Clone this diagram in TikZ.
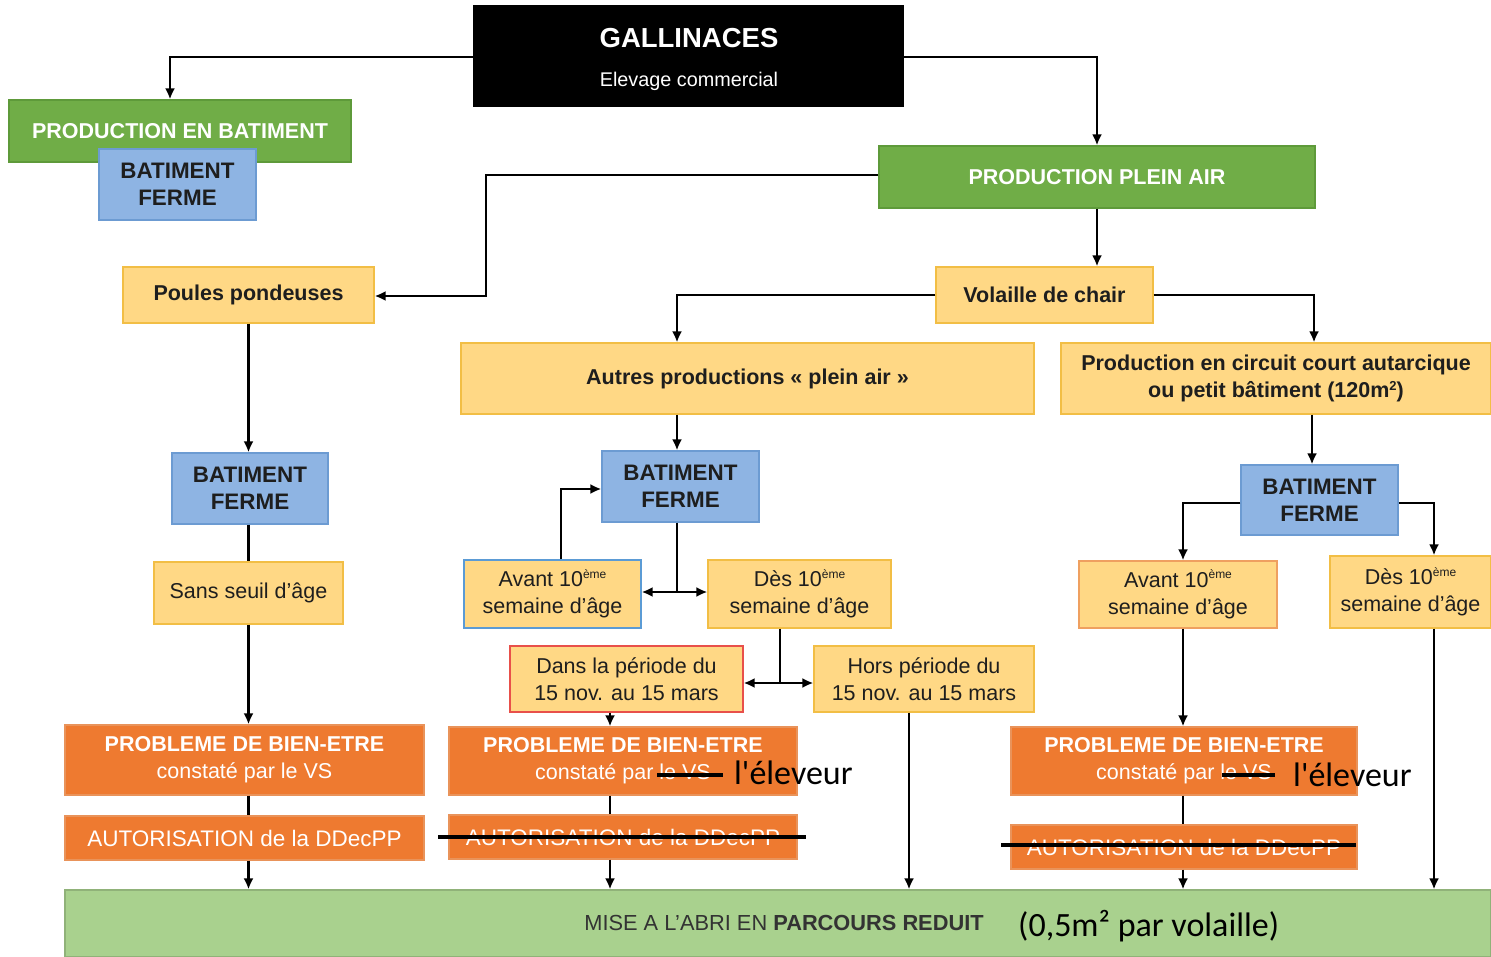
\documentclass[tikz,border=0pt]{standalone}
\usepackage{fontspec}
\setmainfont{Liberation Sans}
\newfontfamily\calib{Carlito}
\usetikzlibrary{arrows.meta}

\definecolor{grn}{HTML}{70AD47}
\definecolor{grnb}{HTML}{5E9A3A}
\definecolor{blu}{HTML}{8EB4E3}
\definecolor{blub}{HTML}{6C9BD2}
\definecolor{yel}{HTML}{FFD885}
\definecolor{yelb}{HTML}{F2BE45}
\definecolor{org}{HTML}{EE7A30}
\definecolor{orgb}{HTML}{E9935A}
\definecolor{lgrn}{HTML}{A9D18E}
\definecolor{txt}{HTML}{1E1E1E}
\definecolor{redb}{HTML}{E8504A}
\definecolor{blbd}{HTML}{5B9BD5}
\definecolor{orbd}{HTML}{EFA060}

\newcommand\rbox[6]{\node[#1,minimum width={#4-#2},minimum height={#5-#3}] (#6) at ({(#2+#4)/2},{(#3+#5)/2})}
\newcommand\myeme{\raisebox{0.4em}{\fontsize{12}{12}\selectfont ème}}
\newcommand\mysq{\raisebox{0.35em}{\fontsize{13}{13}\selectfont\bfseries 2}}

\begin{document}
\begin{tikzpicture}[x=1pt,y=-1pt,
 box/.style={rectangle, inner sep=0pt, align=center, line width=1.2pt, text=txt, font=\fontsize{21.5}{27}\selectfont},
 greenbox/.style={box, fill=grn, draw=grnb, text=white, font=\fontsize{21.5}{27}\selectfont\bfseries},
 bluebox/.style={box, fill=blu, draw=blub, font=\fontsize{22.4}{27}\selectfont\bfseries},
 yelbox/.style={box, fill=yel, draw=yelb},
 byelbox/.style={yelbox, font=\fontsize{21.5}{27}\selectfont\bfseries},
 orgbox/.style={box, fill=org, draw=orgb, text=white},
 conn/.style={line width=2.5pt, draw=black},
 arr/.style={conn, -{Latex[length=11pt,width=10pt]}},
 darr/.style={conn, {Latex[length=11pt,width=10pt]}-{Latex[length=11pt,width=10pt]}},
 strike/.style={line width=3.5pt, black},
 hand/.style={font=\calib\fontsize{34}{38}\selectfont, inner sep=0pt, anchor=base west, text=black}
]
\useasboundingbox (0,0) rectangle (1491,957);
\fill[white] (0,0) rectangle (1491,957);

% ---------- boxes ----------
\rbox{box, fill=black, draw=black}{474}{6}{903}{106}{gal} {};
\node[text=white, font=\fontsize{27.5}{30}\selectfont\bfseries] (galt) at (689,38) {GALLINACES};
\node[text=white, font=\fontsize{19.8}{24}\selectfont] (gals) at (689,81) {Elevage commercial};

\rbox{greenbox}{9}{100}{351}{162}{peb} {PRODUCTION EN BATIMENT};
\rbox{bluebox}{99}{149}{256}{220}{bf0} {BATIMENT\\FERME};
\rbox{greenbox}{879}{146}{1315}{208}{ppa} {PRODUCTION PLEIN AIR};

\rbox{byelbox}{123}{267}{374}{323}{pp} {Poules pondeuses};
\rbox{byelbox}{936}{267}{1153}{323}{vol} {Volaille de chair};
\rbox{byelbox}{461}{343}{1034}{414}{aut} {Autres productions « plein air »};
\rbox{byelbox}{1061}{343}{1491}{414}{circ} {Production en circuit court autarcique\\ou petit bâtiment (120m\mysq)};

\rbox{bluebox}{172}{453}{328}{524}{bf1} {BATIMENT\\FERME};
\rbox{bluebox}{602}{451}{759}{522}{bf2} {BATIMENT\\FERME};
\rbox{bluebox}{1241}{465}{1398}{535}{bf3} {BATIMENT\\FERME};

\rbox{yelbox}{154}{562}{343}{624}{sans} {Sans seuil d’âge};
\rbox{yelbox, draw=blbd}{464}{560}{641}{628}{avm} {Avant 10\myeme\\semaine d’âge};
\rbox{yelbox}{708}{560}{891}{628}{desm} {Dès 10\myeme\\semaine d’âge};
\rbox{yelbox, draw=redb}{510}{646}{743}{712}{dans} {Dans la période du\\15 nov. au 15 mars};
\rbox{yelbox}{814}{646}{1034}{712}{hors} {Hors période du\\15 nov. au 15 mars};
\rbox{yelbox, draw=orbd}{1079}{561}{1277}{628}{avr} {Avant 10\myeme\\semaine d’âge};
\rbox{yelbox}{1330}{556}{1491}{628}{desr} {Dès 10\myeme\\semaine d’âge};

\rbox{orgbox}{65}{725}{424}{795}{prob1} {\textbf{PROBLEME DE BIEN-ETRE}\\constaté par le VS};
\rbox{orgbox}{449}{727}{797}{795}{prob2} {\textbf{PROBLEME DE BIEN-ETRE}\\constaté par le VS};
\rbox{orgbox}{1011}{727}{1357}{795}{prob3} {\textbf{PROBLEME DE BIEN-ETRE}\\constaté par le VS};
\rbox{orgbox, font=\fontsize{22.5}{27}\selectfont}{65}{816}{424}{860}{aut1} {AUTORISATION de la DDecPP};
\rbox{orgbox, font=\fontsize{22.5}{27}\selectfont}{449}{815}{797}{859}{aut2} {AUTORISATION de la DDecPP};
\rbox{orgbox, font=\fontsize{22.5}{27}\selectfont}{1011}{825}{1357}{869}{aut3} {AUTORISATION de la DDecPP};

\rbox{box, fill=lgrn, draw=lgrn!85!black}{65}{890}{1491}{957}{mise} {};
\node[text=black!80, font=\fontsize{21.8}{27}\selectfont] (miset) at (784,923) {MISE A L’ABRI EN \textbf{PARCOURS REDUIT}};

% ---------- coordinates ----------
\coordinate (k1) at (170,57);
\coordinate (k2) at (1097,57);
\coordinate (k3) at (486,175);
\coordinate (k4) at (486,296);
\coordinate (k5) at (677,296);
\coordinate (k6) at (1314,296);
\coordinate (k8) at (677,592);
\coordinate (k9) at (561,489);
\coordinate (k10) at (780,683);
\coordinate (k11) at (610,683);
\coordinate (k12) at (1183,503);
\coordinate (k13) at (1434,503);
\coordinate (k14) at (909,700);
\coordinate (k15) at (1312,400);

% ---------- connectors ----------
\draw[arr] (k1 -| gal.west) -- (k1) -- (k1 |- peb.north);
\draw[arr] (k2 -| gal.east) -- (k2) -- (k2 |- ppa.north);
\draw[arr] (k3 -| ppa.west) -- (k3) -- (k4) -- (k4 -| pp.east);
\draw[arr] (k2 |- ppa.south) -- (k2 |- vol.north);
\draw[arr] (vol.west) -- (vol.west -| k5) -- (k5 |- aut.north);
\draw[arr] (vol.east) -- (vol.east -| k6) -- (k6 |- circ.north);

\draw[arr] (pp.south) -- (pp.south |- bf1.north);
\draw[conn] (bf1.south -| pp.south) -- (sans.north -| pp.south);
\draw[arr] (sans.south -| pp.south) -- (prob1.north -| pp.south);
\draw[conn] (prob1.south -| pp.south) -- (aut1.north -| pp.south);
\draw[arr] (aut1.south -| pp.south) -- (mise.north -| pp.south);

\draw[arr] (k5 |- aut.south) -- (k5 |- bf2.north);
\draw[conn] (k8 |- bf2.south) -- (k8);
\draw[darr] (k8 -| avm.east) -- (k8 -| desm.west);
\draw[arr] (k9 |- avm.north) -- (k9) -- (k9 -| bf2.west);
\draw[conn] (k10 |- desm.south) -- (k10);
\draw[darr] (k10 -| dans.east) -- (k10 -| hors.west);
\draw[arr] (k11 |- dans.south) -- (k11 |- prob2.north);
\draw[conn] (k11 |- prob2.south) -- (k11 |- aut2.north);
\draw[arr] (k11 |- aut2.south) -- (k11 |- mise.north);
\draw[arr] (k14 |- hors.south) -- (k14 |- mise.north);

\draw[arr] (k15 |- circ.south) -- (k15 |- bf3.north);
\draw[arr] (k12 -| bf3.west) -- (k12) -- (k12 |- avr.north);
\draw[arr] (k13 -| bf3.east) -- (k13) -- (k13 |- desr.north);
\draw[arr] (k12 |- avr.south) -- (k12 |- prob3.north);
\draw[conn] (k12 |- prob3.south) -- (k12 |- aut3.north);
\draw[arr] (k12 |- aut3.south) -- (k12 |- mise.north);
\draw[arr] (k13 |- desr.south) -- (k13 |- mise.north);

% ---------- corrections ----------
\draw[strike] (657,775) -- (723,775);
\node[hand] (el1) at (734,784) {l'éleveur};
\draw[strike] (1222,775) -- (1275,775);
\node[hand] (el2) at (1293,786) {l'éleveur};
\draw[strike] (438,837) -- (806,837);
\draw[strike] (1001,845) -- (1356,845);
\node[hand] (surf) at (1018,936) {(0,5m² par volaille)};
\end{tikzpicture}
\end{document}
